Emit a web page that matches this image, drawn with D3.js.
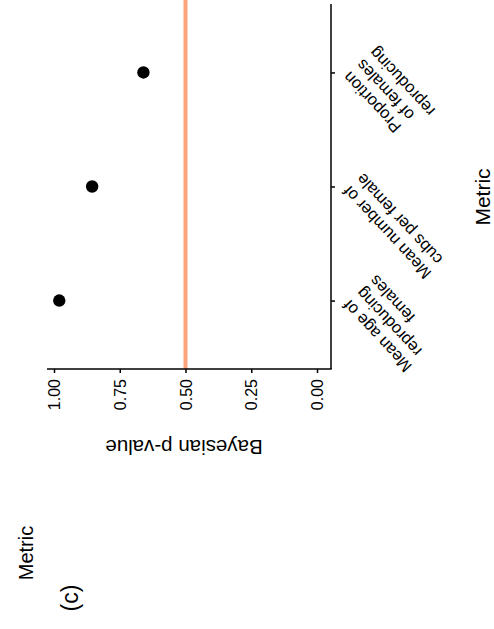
<!DOCTYPE html>
<html lang="en">
<head>
    <meta charset="UTF-8">
    <title>Bayesian p-value by metric</title>
    <script src="https://d3js.org/d3.v7.min.js"></script>
    <style>
        body { margin: 0; background: #fff; }
        svg { display: block; }
        text { font-family: "Liberation Sans", Arial, Helvetica, sans-serif; fill: #000; }
        .axis line { stroke: #000; stroke-width: 1.5px; }
        .axis path { display: none; }
    </style>
</head>
<body>
<script>
    // data
    const metrics = ["Proportion", "Number", "Age"];
    const metricLabels = [
        ["Proportion", "of females", "reproducing"],
        ["Mean number of", "cubs per female"],
        ["Mean age of", "reproducing", "females"]
    ];
    const pValues = [0.66, 0.855, 0.98];
    const xTicks = [0, 0.25, 0.5, 0.75, 1];
    const refValue = 0.5;

    const W = 494, H = 629;
    const svg = d3.select("body").append("svg")
        .attr("width", W)
        .attr("height", H);

    // panel edges (the plot is drawn mirrored: 1 on the left, 0 on the right)
    const panel = { left: 47, right: 331, top: 4, bottom: 369 };

    const x = d3.scaleLinear().domain([0, 1]).range([317, 54]);
    const y = d3.scalePoint().domain(metrics)
        .range([panel.top, panel.bottom]).padding(0.6);

    // reference line at 0.5
    svg.append("line")
        .attr("x1", x(refValue)).attr("x2", x(refValue))
        .attr("y1", 0).attr("y2", panel.bottom)
        .attr("stroke", "#fca47c")
        .attr("stroke-width", 4);

    // points
    svg.selectAll(".dot")
        .data(metrics)
        .enter().append("circle")
        .attr("class", "dot")
        .attr("cx", (d, i) => x(pValues[i]))
        .attr("cy", d => y(d))
        .attr("r", 6.2)
        .attr("fill", "#000");

    // x axis
    const xAxis = svg.append("g")
        .attr("class", "axis")
        .attr("transform", "translate(0," + panel.bottom + ")")
        .call(d3.axisBottom(x).tickValues(xTicks).tickFormat(d3.format(".2f"))
            .tickSize(4).tickSizeOuter(0));
    xAxis.selectAll("text")
        .attr("font-size", 16)
        .attr("text-anchor", "end")
        .attr("x", 0).attr("y", 0).attr("dy", "0.35em")
        .attr("transform", "translate(0,10) rotate(-90)");

    // y axis
    const yAxis = svg.append("g")
        .attr("class", "axis")
        .attr("transform", "translate(" + panel.right + ",0)")
        .call(d3.axisRight(y).tickSize(4).tickSizeOuter(0));
    yAxis.selectAll("text").remove();

    // panel lines
    svg.append("line")
        .attr("x1", panel.left).attr("x2", panel.right + 0.75)
        .attr("y1", panel.bottom).attr("y2", panel.bottom)
        .attr("stroke", "#000").attr("stroke-width", 1.5);
    svg.append("line")
        .attr("x1", panel.right).attr("x2", panel.right)
        .attr("y1", panel.top).attr("y2", panel.bottom)
        .attr("stroke", "#000").attr("stroke-width", 1.5);

    // category labels, slanted and upside down
    const lineH = 18;
    metrics.forEach((m, i) => {
        const t = svg.append("text")
            .attr("font-size", 16.5)
            .attr("text-anchor", "end")
            .attr("transform", "translate(346," + (y(m) + 2) + ") rotate(-133)");
        metricLabels[i].forEach((s, j) => {
            t.append("tspan")
                .attr("x", 0)
                .attr("y", j * lineH)
                .attr("dy", "0.35em")
                .text(s);
        });
    });

    // axis titles
    svg.append("text")
        .attr("font-size", 20.5)
        .attr("text-anchor", "middle")
        .attr("transform", "translate(184,440) rotate(180)")
        .text("Bayesian p-value");

    svg.append("text")
        .attr("font-size", 21)
        .attr("text-anchor", "middle")
        .attr("transform", "translate(490,197) rotate(-90)")
        .text("Metric");

    svg.append("text")
        .attr("font-size", 20)
        .attr("text-anchor", "middle")
        .attr("transform", "translate(33,553) rotate(-90)")
        .text("Metric");

    svg.append("text")
        .attr("font-size", 23)
        .attr("text-anchor", "middle")
        .attr("transform", "translate(78,598) rotate(-90)")
        .text("(c)");
</script>
</body>
</html>
